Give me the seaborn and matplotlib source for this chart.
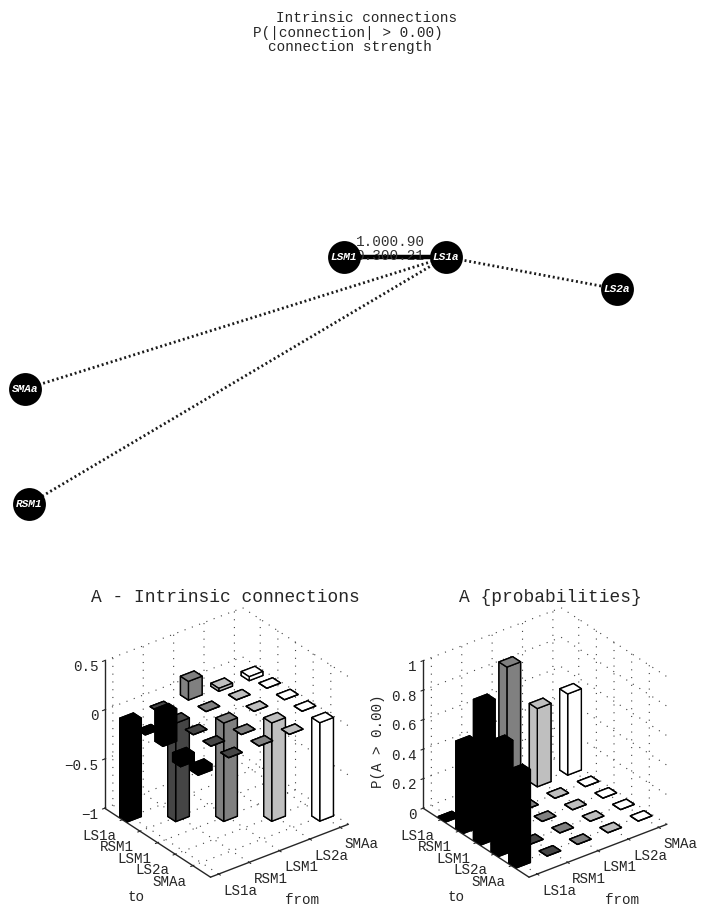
import matplotlib
matplotlib.use("Agg")
import matplotlib.pyplot as plt
import pandas as pd
import seaborn as sns

sns.set_style("white")
plt.rcParams["font.family"] = ["Liberation Mono", "DejaVu Sans"]
plt.rcParams["grid.linestyle"] = (0, (1, 6))
plt.rcParams["grid.linewidth"] = 0.8
plt.rcParams["grid.color"] = "0.25"

regions = ["LS1a", "RSM1", "LSM1", "LS2a", "SMAa"]

# one list per "from" region, rows are the "to" regions
strength_ls1a = [-1.0, 0.0, 0.33, -0.09, -0.06]
strength_rsm1 = [0.0, -1.0, 0.0, 0.0, 0.0]
strength_lsm1 = [0.19, 0.0, -1.0, 0.0, 0.0]
strength_ls2a = [-0.03, 0.0, 0.0, -1.0, 0.0]
strength_smaa = [-0.04, 0.0, 0.0, 0.0, -1.0]

prob_ls1a = [0.0, 0.59, 0.95, 0.75, 0.63]
prob_rsm1 = [0.0, 0.0, 0.0, 0.0, 0.0]
prob_lsm1 = [0.89, 0.0, 0.0, 0.0, 0.0]
prob_ls2a = [0.53, 0.0, 0.0, 0.0, 0.0]
prob_smaa = [0.55, 0.0, 0.0, 0.0, 0.0]

strength = [strength_ls1a, strength_rsm1, strength_lsm1, strength_ls2a, strength_smaa]
prob = [prob_ls1a, prob_rsm1, prob_lsm1, prob_ls2a, prob_smaa]
column_grey = ["0.0", "0.27", "0.5", "0.75", "1.0"]

# network, in pixels of the page
node_names = ["LSM1", "LS1a", "LS2a", "SMAa", "RSM1"]
node_x = [344, 446, 617, 25, 29]
node_y = [257, 257, 289, 389, 504]
strong_x = [344, 446]
strong_y = [257, 257]
weak_targets = ["LS2a", "SMAa", "RSM1"]

fig = plt.figure(figsize=(7.01, 9.06), dpi=100)

# page axes holds network and loose text
page = fig.add_axes([0, 0, 1, 1], zorder=0)

page.text(367, 18, "Intrinsic connections", ha="center", va="center", fontsize=10.4)
page.text(348, 33, "P(|connection| > 0.00)", ha="center", va="center", fontsize=10.4)
page.text(350, 47, "connection strength", ha="center", va="center", fontsize=10.4)
page.text(390, 242, "1.000.90", ha="center", va="center", fontsize=10.4, color="0.2")
page.text(390, 256, "0.300.21", ha="center", va="center", fontsize=10.4, color="0.2")

for name in weak_targets:
    i = node_names.index(name)
    edge = pd.DataFrame({"x": [446, node_x[i]], "y": [257, node_y[i]]})
    sns.lineplot(data=edge, x="x", y="y", ax=page, color="0.1", lw=2.0,
                 linestyle=(0, (0.7, 1.0)), sort=False, errorbar=None)
sns.lineplot(x=strong_x, y=strong_y, ax=page, color="black", lw=3.2, sort=False, errorbar=None)
sns.scatterplot(x=node_x, y=node_y, ax=page, s=560, color="black", linewidth=0, zorder=5)
for n, x, y in zip(node_names, node_x, node_y):
    page.text(x, y, n, color="white", ha="center", va="center", fontsize=8.0,
              fontstyle="italic", fontweight="bold", zorder=6)
page.set_xlim(0, 701)
page.set_ylim(906, 0)
page.axis("off")

page.text(136, 897, "to", ha="center", va="center", fontsize=10.3)
page.text(302, 900, "from", ha="center", va="center", fontsize=10.3)
page.text(456, 897, "to", ha="center", va="center", fontsize=10.3)
page.text(622, 900, "from", ha="center", va="center", fontsize=10.3)
page.text(378, 741, "P(A > 0.00)", rotation=90, ha="center", va="center", fontsize=10.3)


def bars(rect, values, zlim, zticks, zlabels):
    ax = fig.add_axes(rect, projection="3d", computed_zorder=False, zorder=1)
    ax.patch.set_alpha(0)
    ax.set_proj_type("ortho")
    ax.view_init(elev=30, azim=-127.5)
    ax.set_box_aspect((1, 1, 0.98), zoom=0.968)
    width = 0.45
    order = 1
    for c in range(5, 0, -1):
        for r in range(1, 6):
            v = values[c - 1][r - 1]
            poly = ax.bar3d(c - width / 2, r - width / 2, 0, width, width, v,
                            color=column_grey[c - 1], edgecolor="black", linewidth=1.0, shade=False)
            poly.set_zorder(order)
            order += 1
    ax.set_xlim(0.73, 5.27)
    ax.set_ylim(6, 0)
    ax.set_zlim(*zlim)
    ax.set_xticks(range(1, 6), regions, ha="left")
    ax.set_yticks(range(1, 6), regions, ha="right")
    ax.set_zticks(zticks, zlabels, ha="right")
    ax.tick_params(labelsize=10.3)
    ax.tick_params(axis="x", pad=-3)
    ax.tick_params(axis="y", pad=-3)
    ax.tick_params(axis="z", pad=-5)
    for axis in (ax.xaxis, ax.yaxis, ax.zaxis):
        axis.set_pane_color((1, 1, 1, 0))
        axis.pane.set_edgecolor((1, 1, 1, 0))
        axis.line.set_linewidth(1.0)
    return ax


size = 300 / 701
h = 300 / 906
ax1 = bars([(222.5 - 150) / 701, 1 - (746.5 + 150) / 906, size, h], strength,
           (-1, 0.5), [-1, -0.5, 0, 0.5], ["\u22121", "\u22120.5", "0", "0.5"])
ax2 = bars([(541 - 150) / 701, 1 - (746.5 + 150) / 906, size, h], prob,
           (0, 1), [0, 0.2, 0.4, 0.6, 0.8, 1], ["0", "0.2", "0.4", "0.6", "0.8", "1"])

page.text(225, 597, "A - Intrinsic connections", ha="center", va="center", fontsize=12.9)
page.text(550, 597, "A {probabilities}", ha="center", va="center", fontsize=12.9)

fig.savefig("out.png", dpi=100)
